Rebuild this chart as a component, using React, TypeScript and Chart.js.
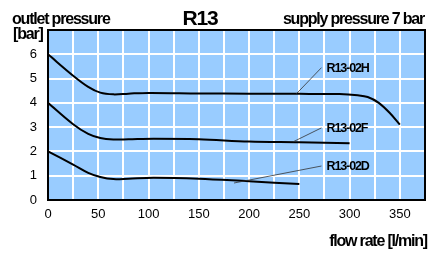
import React, { useEffect, useRef } from "react";
import { Chart, registerables } from "chart.js";

Chart.register(...registerables);

const flowH = [0, 25, 40, 52, 65, 80, 100, 150, 200, 250, 290, 308, 318, 329, 340, 350];
const presH = [6.0, 5.12, 4.66, 4.42, 4.35, 4.38, 4.41, 4.39, 4.38, 4.37, 4.36, 4.31, 4.24, 4.0, 3.58, 3.1];
const flowF = [0, 25, 40, 52, 65, 80, 105, 150, 200, 250, 300];
const presF = [4.0, 3.12, 2.72, 2.55, 2.49, 2.5, 2.52, 2.5, 2.41, 2.38, 2.34];
const flowD = [0, 25, 40, 52, 65, 80, 105, 150, 200, 250];
const presD = [2.0, 1.46, 1.12, 0.95, 0.86, 0.88, 0.92, 0.88, 0.77, 0.66];

const seriesNames = ["R13-02H", "R13-02F", "R13-02D"];
// label anchor [x, y] and leader target [x, y] in data units
const labelAnchors = [
  [277, 5.45, 247, 4.37],
  [277, 2.97, 244, 2.4],
  [277, 1.4, 185, 0.7],
];

const xMax = 375;
const yMax = 7;
const titleText = "R13";
const yTitle1 = "outlet pressure";
const yTitle2 = "[bar]";
const topRight = "supply pressure 7 bar";
const xTitle = "flow rate [l/min]";

const toPts = (xs: number[], ys: number[]) => xs.map((x, i) => ({ x, y: ys[i] }));

export default function App() {
  const ref = useRef<HTMLCanvasElement>(null);
  useEffect(() => {
    document.body.style.margin = "0";
    const canvas = ref.current!;
    const decor = {
      id: "decor",
      beforeDraw(chart: any) {
        const { ctx, chartArea: a } = chart;
        ctx.save();
        ctx.fillStyle = "#ffffff";
        ctx.fillRect(0, 0, chart.width, chart.height);
        ctx.fillStyle = "#99ccff";
        ctx.fillRect(a.left, a.top, a.right - a.left, a.bottom - a.top);
        ctx.restore();
      },
      afterDraw(chart: any) {
        const { ctx, chartArea: a, scales } = chart;
        const xs = scales.x, ys = scales.y;
        ctx.save();
        ctx.strokeStyle = "#000";
        ctx.lineWidth = 2;
        ctx.strokeRect(a.left, a.top, a.right - a.left, a.bottom - a.top);
        // leaders + labels
        ctx.lineWidth = 0.8;
        ctx.strokeStyle = "#333";
        ctx.fillStyle = "#000";
        ctx.font = "bold 12.5px 'Liberation Sans', Arial, sans-serif";
        (ctx as any).letterSpacing = "-1.1px";
        ctx.textBaseline = "middle";
        ctx.textAlign = "left";
        labelAnchors.forEach((l, i) => {
          const x1 = xs.getPixelForValue(l[0]);
          const y1 = ys.getPixelForValue(l[1]);
          const x2 = xs.getPixelForValue(l[2]);
          const y2 = ys.getPixelForValue(l[3]);
          ctx.beginPath();
          ctx.moveTo(x1 - 5, y1);
          ctx.lineTo(x2, y2);
          ctx.stroke();
          ctx.fillText(seriesNames[i], x1, y1 + 1);
        });
        // titles
        ctx.textBaseline = "alphabetic";
        ctx.font = "bold 16px 'Liberation Sans', Arial, sans-serif";
        (ctx as any).letterSpacing = "-1.2px";
        ctx.textAlign = "left";
        ctx.fillText(yTitle1, 12, 24);
        ctx.fillText(yTitle2, 13, 39);
        ctx.textAlign = "right";
        ctx.fillText(topRight, 424, 24);
        ctx.fillText(xTitle, 427, 246);
        ctx.textAlign = "center";
        ctx.font = "bold 21px 'Liberation Sans', Arial, sans-serif";
        (ctx as any).letterSpacing = "-1.2px";
        ctx.fillText(titleText, 200, 25);
        ctx.restore();
      },
    };
    const lineDs = (xs: number[], ys: number[]) => ({
      data: toPts(xs, ys),
      borderColor: "#000",
      borderWidth: 2,
      pointRadius: 0,
      fill: false,
      tension: 0.35,
    });
    const chart = new Chart(canvas, {
      type: "line",
      data: {
        datasets: [lineDs(flowH, presH), lineDs(flowF, presF), lineDs(flowD, presD)],
      },
      options: {
        animation: false,
        responsive: false,
        maintainAspectRatio: false,
        layout: { padding: { left: 0, right: 20, top: 30, bottom: 0 } },
        plugins: { legend: { display: false }, tooltip: { enabled: false } },
        scales: {
          x: {
            type: "linear",
            min: 0,
            max: xMax,
            border: { display: false },
            grid: { color: "#ffffff", lineWidth: 2, drawTicks: false },
            ticks: {
              stepSize: 25,
              autoSkip: false,
              maxRotation: 0,
              padding: 7,
              color: "#000",
              font: { family: "'Liberation Sans', Arial, sans-serif", size: 13 },
              callback: (v: any) => (Number(v) % 50 === 0 && Number(v) <= 350 ? String(v) : ""),
            },
            afterFit: (s: any) => {
              s.height = 59;
            },
          },
          y: {
            type: "linear",
            min: 0,
            max: yMax,
            border: { display: false },
            grid: { color: "#ffffff", lineWidth: 2, drawTicks: false },
            ticks: {
              stepSize: 1,
              padding: 11,
              color: "#000",
              font: { family: "'Liberation Sans', Arial, sans-serif", size: 13 },
              callback: (v: any) => (Number(v) < yMax ? String(v) : ""),
            },
            afterFit: (s: any) => {
              s.width = 48;
            },
          },
        },
      },
      plugins: [decor],
    });
    return () => chart.destroy();
  }, []);
  return (
    <div style={{ width: 445, height: 259 }}>
      <canvas ref={ref} width={445} height={259} style={{ display: "block" }} />
    </div>
  );
}
